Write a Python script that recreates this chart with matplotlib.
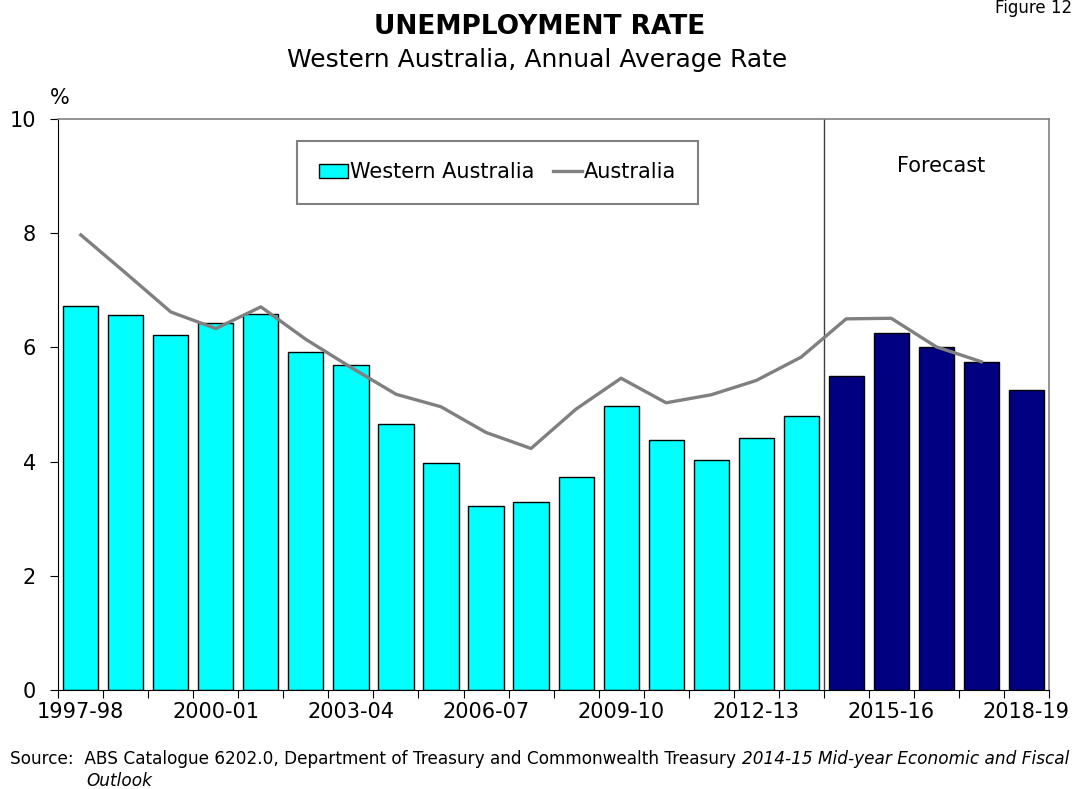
import matplotlib
matplotlib.use('Agg')
import matplotlib.pyplot as plt
import numpy as np
from matplotlib.patches import Patch
from matplotlib.lines import Line2D

# Financial years, WA rate (last five are forecasts) and national rate
years = ['1997-98', '1998-99', '1999-00', '2000-01', '2001-02', '2002-03',
         '2003-04', '2004-05', '2005-06', '2006-07', '2007-08', '2008-09',
         '2009-10', '2010-11', '2011-12', '2012-13', '2013-14', '2014-15',
         '2015-16', '2016-17', '2017-18', '2018-19']
wa_rate = [6.73, 6.56, 6.21, 6.42, 6.58, 5.92, 5.69, 4.66, 3.98, 3.22, 3.29,
           3.73, 4.97, 4.37, 4.02, 4.41, 4.79, 5.50, 6.25, 6.00, 5.75, 5.25]
aus_rate = [7.97, 7.30, 6.62, 6.33, 6.71, 6.14, 5.65, 5.18, 4.96, 4.51, 4.23,
            4.92, 5.46, 5.03, 5.17, 5.42, 5.83, 6.50, 6.51, 6.01, 5.75]
n_forecast = 5

W, H = 1075, 789
fig = plt.figure(figsize=(W / 100, H / 100), dpi=100)
ax = fig.add_axes([58.3 / W, 1 - 690 / H, 990.5 / W, 571 / H])

x = np.arange(len(years))
colors = ['#00FFFF'] * (len(years) - n_forecast) + ['#000080'] * n_forecast
ax.bar(x, wa_rate, width=0.78, color=colors, edgecolor='black', linewidth=1, zorder=2)
ax.plot(x[:len(aus_rate)], aus_rate, color='#808080', lw=2.4, zorder=3)

# forecast divider
ax.axvline(len(years) - n_forecast - 0.5, color='#404040', lw=1, zorder=1)
ax.text(19.1, 9.18, 'Forecast', ha='center', va='center', fontsize=15)

ax.set_xlim(-0.5, len(years) - 0.5)
ax.set_ylim(0, 10)
ax.set_yticks(range(0, 11, 2))
ax.set_xticks(np.arange(-0.5, len(years), 1))
ax.set_xticks(x[::3], labels=years[::3], minor=True)
ax.tick_params(axis='x', which='major', direction='out', length=6, labelbottom=False)
ax.tick_params(axis='x', which='minor', length=0, pad=9, labelsize=15)
ax.tick_params(axis='y', direction='out', length=6, pad=10, labelsize=15)
for side in ['top', 'right']:
    ax.spines[side].set_color('#808080')
    ax.spines[side].set_linewidth(1.2)

fig.text(60 / W, 1 - 104 / H, '%', ha='center', va='baseline', fontsize=15)

handles = [Patch(facecolor='#00FFFF', edgecolor='black', linewidth=1),
           Line2D([], [], color='#808080', lw=2.4)]
leg = fig.legend(handles, ['Western Australia', 'Australia'], loc='center',
                 bbox_to_anchor=(497.5 / W, 1 - 172.5 / H), ncol=2,
                 fancybox=False, edgecolor='#808080', framealpha=1, fontsize=15,
                 handlelength=1.4, handleheight=0.65, handletextpad=0.1,
                 columnspacing=0.9, borderpad=1.05)
leg.get_frame().set_linewidth(1.5)

fig.text(540 / W, 1 - 34 / H, 'UNEMPLOYMENT RATE', ha='center', va='baseline',
         fontsize=19, fontweight='bold')
fig.text(537 / W, 1 - 67 / H, 'Western Australia, Annual Average Rate',
         ha='center', va='baseline', fontsize=18)
fig.text(1072 / W, 1 - 13 / H, 'Figure 12', ha='right', va='baseline', fontsize=12)

# source note, with the publication title in italics
src = fig.text(10 / W, 1 - 764 / H,
               'Source:  ABS Catalogue 6202.0, Department of Treasury and Commonwealth Treasury',
               ha='left', va='baseline', fontsize=12.2)
renderer = fig.canvas.get_renderer()
x_end = src.get_window_extent(renderer).x1
fig.text((x_end + 6) / W, 1 - 764 / H, '2014-15 Mid-year Economic and Fiscal',
         ha='left', va='baseline', fontsize=12.2, style='italic')
fig.text(86 / W, 1 - 786 / H, 'Outlook', ha='left', va='baseline', fontsize=12.2,
         style='italic')

fig.savefig('out.png', dpi=100)
